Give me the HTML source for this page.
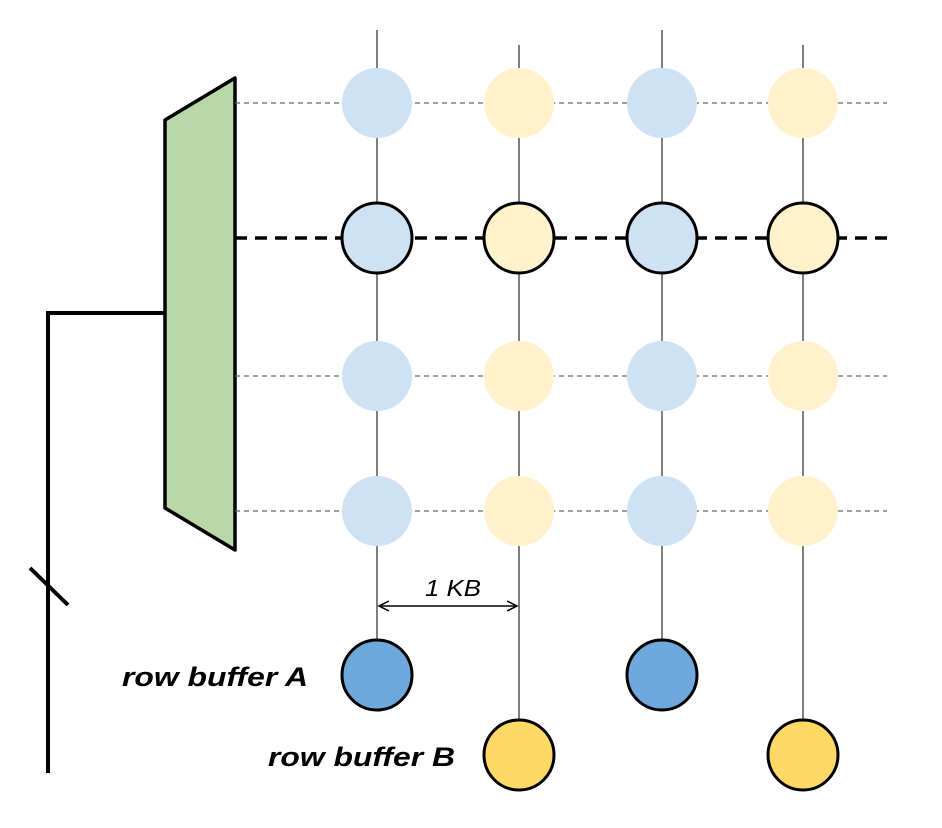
<!DOCTYPE html>
<html><head><meta charset="utf-8"><style>
html,body{margin:0;padding:0;background:#fff;}
svg{display:block;font-family:"Liberation Sans",sans-serif;}
</style></head><body>
<svg id="d" width="942" height="828" viewBox="0 0 942 828">
<polygon points="165,120 235,78 235,550 165,508" fill="#b9d7a8" stroke="#000" stroke-width="3.5" stroke-linejoin="round"/>
<polyline points="165,313 48,313 48,773" fill="none" stroke="#000" stroke-width="4"/>
<line x1="30" y1="568" x2="68" y2="605" stroke="#000" stroke-width="4"/>
<g id="grid"></g>
<line x1="381" y1="606" x2="515" y2="606" stroke="#000" stroke-width="1.5"/>
<polyline points="389,601 379,606 389,611" fill="none" stroke="#000" stroke-width="1.5"/>
<polyline points="507,601 517,606 507,611" fill="none" stroke="#000" stroke-width="1.5"/>
<text x="425" y="596" font-size="23" font-style="italic" textLength="56" lengthAdjust="spacingAndGlyphs">1 KB</text>
<text x="122" y="686" font-size="27" font-weight="bold" font-style="italic" textLength="186" lengthAdjust="spacingAndGlyphs">row buffer A</text>
<text x="268" y="766" font-size="27" font-weight="bold" font-style="italic" textLength="187" lengthAdjust="spacingAndGlyphs">row buffer B</text>
</svg>
<script>
const colX = [377, 519, 662, 803];
const colBank = ["A", "B", "A", "B"];
const rowY = [103, 238, 376, 511];
const activeRow = [false, true, false, false];
const NS = "http://www.w3.org/2000/svg";
const g = document.getElementById("grid");
function mk(t, a) { const e = document.createElementNS(NS, t); for (const k in a) e.setAttribute(k, a[k]); g.appendChild(e); return e; }
colX.forEach((x, i) => {
  const isA = colBank[i] === "A";
  const bufY = isA ? 675 : 755;
  const l = mk("line", {x1: x, y1: isA ? 30 : 45, x2: x, y2: bufY, stroke: "#555", "stroke-width": 1.5});
  
  
});
rowY.forEach((y, j) => {
  const act = activeRow[j];
  const l = mk("line", {x1: 235, y1: y, x2: 887, y2: y, stroke: act ? "#000" : "#666", "stroke-width": act ? 3.5 : 1.2, "stroke-dasharray": act ? "12,8" : "5,4"});
  
  
});
rowY.forEach((y, j) => {
  colX.forEach((x, i) => {
    const isA = colBank[i] === "A";
    const a = {cx: x, cy: y, r: 35, fill: isA ? "#cfe2f3" : "#fff2cc"};
    if (activeRow[j]) { a.stroke = "#000"; a["stroke-width"] = 3; }
    const c = mk("circle", a);
    
    
  });
});
colX.forEach((x, i) => {
  const isA = colBank[i] === "A";
  const c = mk("circle", {cx: x, cy: isA ? 675 : 755, r: 35, fill: isA ? "#6fa8dc" : "#ffd966", stroke: "#000", "stroke-width": 3});
  
  
});
</script>
</body></html>
